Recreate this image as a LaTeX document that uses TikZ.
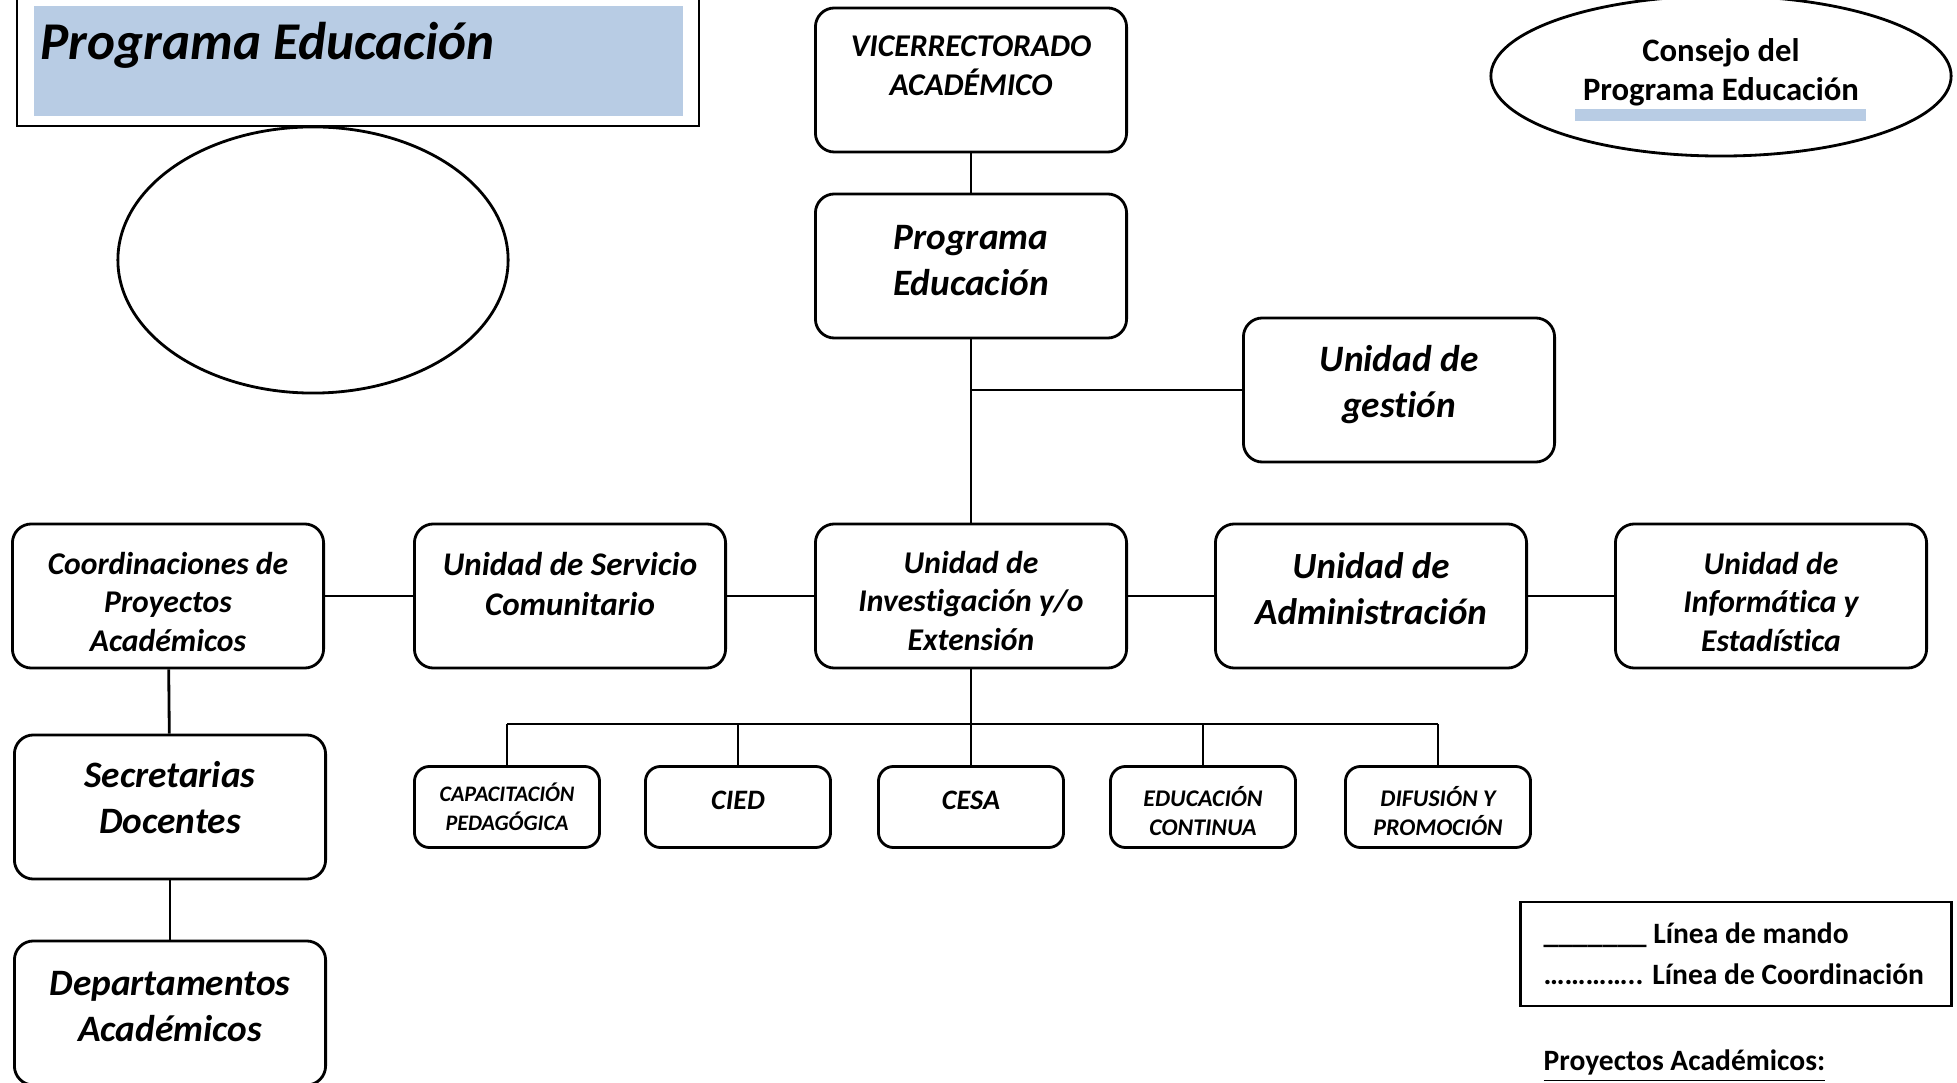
\documentclass[tikz,border=0pt]{standalone}
\usepackage{fontspec}
\setmainfont{Carlito}[Ligatures=NoCommon]
\usetikzlibrary{positioning, shapes.geometric}
\definecolor{azul}{RGB}{184,204,228}
\newcommand{\tam}[2]{\fontsize{#1}{#2}\selectfont}
\tikzset{unidad/.style = {draw, rounded corners=0.19cm, line width=0.8pt, minimum width=3.11cm, minimum height=1.44cm}}
\tikzset{centro/.style = {draw, rounded corners=0.15cm, line width=0.8pt, minimum width=1.85cm, minimum height=0.81cm}}
\tikzset{grande/.style = {font=\bfseries\itshape\tam{10.6}{13.1}}}
\tikzset{mediano/.style = {font=\bfseries\itshape\tam{9}{11}}}
\tikzset{chico/.style = {font=\bfseries\itshape\tam{6.8}{8.4}}}
\tikzset{linea/.style = {line width=0.8pt}}

\begin{document}
\begin{tikzpicture}[x=0.01cm, y=-0.01cm, every label/.style={align=center, inner sep=0pt}]
  \useasboundingbox (0,0) rectangle (1957,1083);
  % titulo
  \draw[linea] (17,-5) rectangle (699,126);
  \fill[azul] (34,6) rectangle (683,116);
  \node[anchor=base west, inner sep=0, font=\bfseries\itshape\tam{15.1}{18}] (titulo) at (40,60) {Programa Educación};
  \node[draw, ellipse, line width=0.8pt, minimum width=3.9cm, minimum height=2.66cm] (ovalo) at (313,260) {};
  % consejo
  \fill[azul] (1575,109) rectangle (1866,121);
  \node[draw, ellipse, line width=0.8pt, minimum width=4.6cm, minimum height=1.6cm,
    label={[font=\bfseries\tam{9.3}{11}, yshift=0.04cm]center:Consejo del\\Programa Educación}] (consejo) at (1721,76) {};

  \path (971,80) node[unidad, label={[mediano, yshift=0.14cm]center:VICERRECTORADO\\ACADÉMICO}] (vice) {}
      ++(0,186) node[unidad, label={[grande, yshift=0.05cm]center:Programa\\Educación}] (progEd) {}
      ++(0,330) node[unidad, label={[mediano, yshift=-0.05cm]center:Unidad de\\Investigación y/o\\Extensión}] (invest) {}
      ++(-401,0) node[unidad, label={[font=\bfseries\itshape\tam{9.4}{11.6}, yshift=0.12cm]center:Unidad de Servicio\\Comunitario}] (servicio) {}
      ++(-402,0) node[unidad, label={[mediano, yshift=-0.06cm]center:Coordinaciones de\\Proyectos\\Académicos}] (coord) {}
      ++(2,211) node[unidad, label={[grande, yshift=0.09cm]center:Secretarias\\Docentes}] (secret) {}
      ++(0,206) node[unidad, label={[grande, yshift=0.06cm]center:Departamentos\\Académicos}] (deptos) {}
        (invest)
      ++(400,0) node[unidad, label={[font=\bfseries\itshape\tam{10.5}{13.1}, yshift=0.07cm]center:Unidad de\\Administración}] (admin) {}
      ++(400,0) node[unidad, label={[mediano, yshift=-0.06cm]center:Unidad de\\Informática y\\Estadística}] (inform) {}
        (progEd)
      ++(428,124) node[unidad, label={[grande, yshift=0.05cm]center:Unidad de\\gestión}] (gestion) {}
        (invest)
      ++(0,211) node[centro, label={[font=\bfseries\itshape\tam{8}{10}, yshift=0.07cm]center:CESA}] (cesa) {}
      ++(-233,0) node[centro, label={[font=\bfseries\itshape\tam{8}{10}, yshift=0.07cm]center:CIED}] (cied) {}
      ++(-231,0) node[centro, label={[font=\bfseries\itshape\tam{6.3}{8.2}]center:CAPACITACIÓN\\PEDAGÓGICA}] (capac) {}
        (cesa)
      ++(232,0) node[centro, label={[chico, yshift=-0.04cm]center:EDUCACIÓN\\CONTINUA}] (educ) {}
      ++(235,0) node[centro, label={[chico, yshift=-0.04cm]center:DIFUSIÓN Y\\PROMOCIÓN}] (difus) {};

  \foreach \i/\o in {vice/progEd, progEd/invest, coord/servicio, servicio/invest,
    invest/admin, admin/inform, coord/secret, secret/deptos}
  {
    \draw[linea] (\i) -- (\o);
  }
  \draw[linea] (gestion.west) -- (gestion.west -| progEd.south);
  \coordinate (bus) at (971,724);
  \draw[linea] (invest) -- (bus);
  \draw[linea] (capac.north |- bus) -- (difus.north |- bus);
  \foreach \c in {capac, cied, cesa, educ, difus}
  {
    \draw[linea] (\c.north |- bus) -- (\c.north);
  }

  % leyenda
  \node[draw, line width=0.8pt, minimum width=4.3cm, minimum height=1.04cm] (leyenda) at (1736,954) {};
  \node[anchor=west, inner sep=0, align=left, font=\bfseries\tam{8.4}{11.7}] (leyenda-t) at (1543,954) {\_\_\_\_\_\_\_ Línea de mando\\………….. Línea de Coordinación};
  \node[anchor=base west, inner sep=0, font=\bfseries\tam{8.4}{11}] (proyectos) at (1543,1071) {\underline{Proyectos Académicos:}};
\end{tikzpicture}
\end{document}
